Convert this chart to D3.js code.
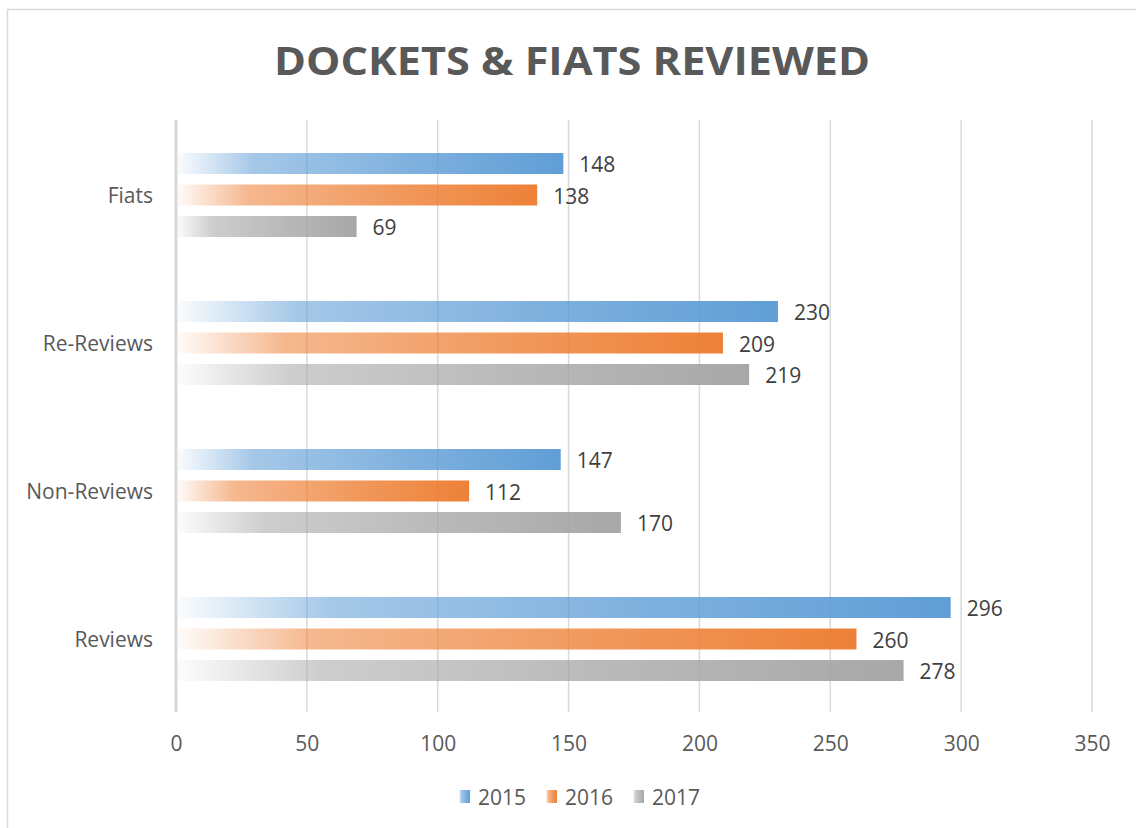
<!DOCTYPE html>
<html>
<head>
<meta charset="utf-8">
<script src="https://cdn.jsdelivr.net/npm/d3@7"></script>
<style>
  html, body { margin: 0; padding: 0; background: #fff; }
  svg { display: block; }
  text { font-family: "Open Sans", "Noto Sans", sans-serif; }
</style>
</head>
<body>
<script>
const categories = ["Fiats", "Re-Reviews", "Non-Reviews", "Reviews"];
const seriesNames = ["2015", "2016", "2017"];
const values2015 = [148, 230, 147, 296];
const values2016 = [138, 209, 112, 260];
const values2017 = [69, 219, 170, 278];
const seriesColors = ["#5B9BD5", "#ED7D31", "#A5A5A5"];
const xTicks = [0, 50, 100, 150, 200, 250, 300, 350];
const titleText = "DOCKETS & FIATS REVIEWED";

const seriesValues = [values2015, values2016, values2017];
const W = 1136, H = 828;
const svg = d3.select("body").append("svg").attr("width", W).attr("height", H);

// chart border
svg.append("path")
  .attr("d", `M7.5,${H} L7.5,9.5 L${W},9.5`)
  .attr("fill", "none").attr("stroke", "#d9d9d9").attr("stroke-width", 1.5);

// gradients
const defs = svg.append("defs");
seriesColors.forEach((c, i) => {
  const g = defs.append("linearGradient").attr("id", "grad" + i)
    .attr("x1", 0).attr("x2", 1).attr("y1", 0).attr("y2", 0);
  g.append("stop").attr("offset", 0).attr("stop-color", c).attr("stop-opacity", 0.02);
  g.append("stop").attr("offset", 0.2).attr("stop-color", c).attr("stop-opacity", 0.55);
  g.append("stop").attr("offset", 0.6).attr("stop-color", c).attr("stop-opacity", 0.78);
  g.append("stop").attr("offset", 1).attr("stop-color", c).attr("stop-opacity", 0.97);
});

const x = d3.scaleLinear().domain([0, 350]).range([176, 1092]);
const y = d3.scaleBand().domain(categories).range([121, 713]).padding(0);
const yInner = d3.scaleBand().domain(seriesNames)
  .range([32, y.bandwidth() - 32]).paddingInner(1/3).paddingOuter(0);

// title
svg.append("text")
  .attr("x", 572).attr("y", 75)
  .attr("text-anchor", "middle")
  .attr("font-size", 40).attr("font-weight", "bold")
  .attr("fill", "#595959")
  .attr("textLength", 596).attr("lengthAdjust", "spacingAndGlyphs")
  .text(titleText);

// gridlines
const grid = svg.append("g");
grid.selectAll("line").data(xTicks.slice(1)).join("line")
  .attr("x1", d => x(d)).attr("x2", d => x(d))
  .attr("y1", 120).attr("y2", 712)
  .attr("stroke", "#d9d9d9").attr("stroke-width", 1.5);

// bars
const barData = [];
categories.forEach((cat, ci) => {
  seriesNames.forEach((s, si) => {
    barData.push({ cat, s, si, v: seriesValues[si][ci] });
  });
});
const bars = svg.append("g");
bars.selectAll("rect").data(barData).join("rect")
  .attr("x", x(0))
  .attr("y", d => y(d.cat) + yInner(d.s))
  .attr("width", d => x(d.v) - x(0))
  .attr("height", yInner.bandwidth())
  .attr("fill", d => `url(#grad${d.si})`);

// value labels
svg.append("g").selectAll("text").data(barData).join("text")
  .attr("x", d => x(d.v) + 16)
  .attr("y", d => y(d.cat) + yInner(d.s) + yInner.bandwidth() / 2)
  .attr("dy", "0.42em")
  .attr("font-size", 21).attr("fill", "#404040")
  .text(d => d.v);

// left axis line
svg.append("line")
  .attr("x1", x(0)).attr("x2", x(0)).attr("y1", 120).attr("y2", 712)
  .attr("stroke", "#d9d9d9").attr("stroke-width", 3);

// x axis tick labels
const xAxis = d3.axisBottom(x).tickValues(xTicks).tickSize(0).tickPadding(0);
const xg = svg.append("g").attr("transform", "translate(0,736)").call(xAxis);
xg.select(".domain").remove();
xg.selectAll("text").attr("font-size", 21).attr("fill", "#595959")
  .attr("font-family", '"Open Sans", sans-serif');

// y axis category labels
const yAxis = d3.axisLeft(y).tickSize(0).tickPadding(0);
const yg = svg.append("g").attr("transform", "translate(153,0)").call(yAxis);
yg.select(".domain").remove();
yg.selectAll("text").attr("font-size", 21).attr("fill", "#595959")
  .attr("dy", "0.38em")
  .attr("font-family", '"Open Sans", sans-serif');

// legend
const legend = svg.append("g");
const legendX = [459, 546, 633];
seriesNames.forEach((s, i) => {
  const g = legend.append("g").attr("transform", `translate(${legendX[i]},790)`);
  g.append("rect").attr("width", 11).attr("height", 13).attr("fill", `url(#grad${i})`);
  g.append("text").attr("x", 19).attr("y", 7).attr("dy", "0.38em")
    .attr("font-size", 21).attr("fill", "#595959").text(s);
});
</script>
</body>
</html>
